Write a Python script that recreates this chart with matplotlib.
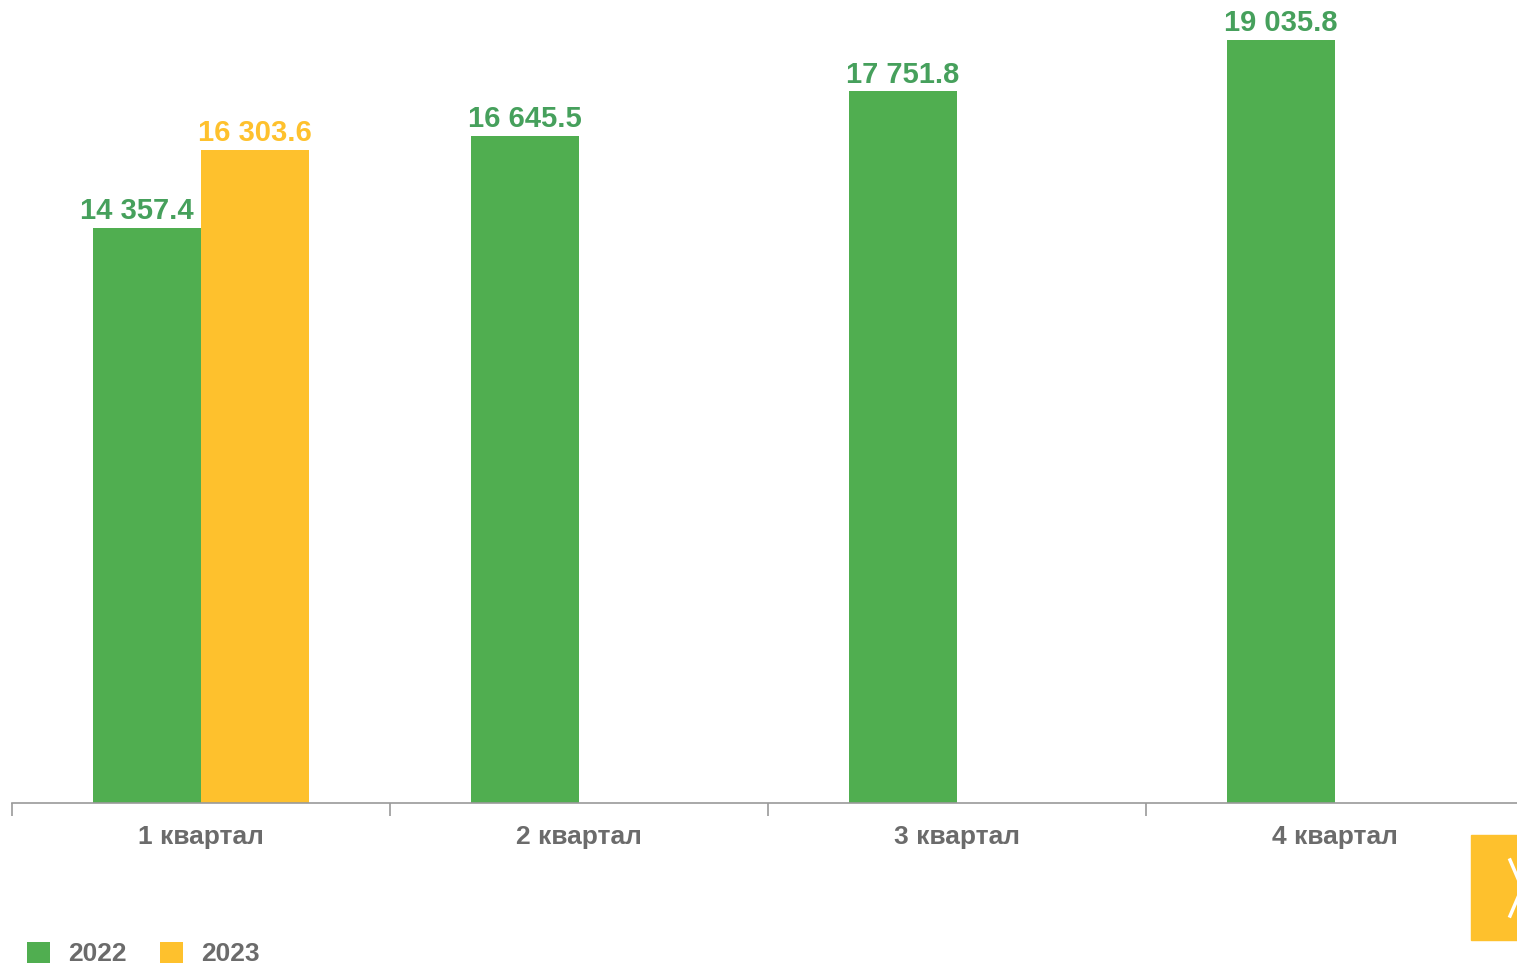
import numpy as np
import matplotlib.pyplot as plt
from matplotlib.patches import Rectangle

plt.rcParams['font.family'] = ['Liberation Sans', 'DejaVu Sans']

# Данные
quarters = ['1 квартал', '2 квартал', '3 квартал', '4 квартал']
years = ['2022', '2023']
values_2022 = [14357.4, 16645.5, 17751.8, 19035.8]
values_2023 = [16303.6, np.nan, np.nan, np.nan]

green = '#50AE50'
yellow = '#FEC12D'
green_text = '#46A05C'
gray_text = '#6B6B6B'


def fmt(v):
    return f'{v:,.1f}'.replace(',', ' ')


W, H = 1517, 966
fig = plt.figure(figsize=(W / 100, H / 100), dpi=100)
ax = fig.add_axes([12 / W, (H - 803) / H, 1512 / W, 803 / H])

x = np.arange(len(quarters))
w = 0.286
b1 = ax.bar(x - w / 2, values_2022, w, color=green, label=years[0])
b2 = ax.bar(x + w / 2, values_2023, w, color=yellow, label=years[1])

# Подписи значений
for i, bar in enumerate(b1):
    dx = -7 if i == 0 else 0
    ax.annotate(fmt(values_2022[i]), (bar.get_x() + bar.get_width() / 2, bar.get_height()),
                xytext=(dx, 2), textcoords='offset points', ha='center', va='bottom',
                fontsize=21, fontweight='bold', color=green_text)
for i, bar in enumerate(b2):
    if np.isnan(values_2023[i]):
        continue
    ax.annotate(fmt(values_2023[i]), (bar.get_x() + bar.get_width() / 2, bar.get_height()),
                xytext=(0, 2), textcoords='offset points', ha='center', va='bottom',
                fontsize=21, fontweight='bold', color=yellow)

ax.set_xlim(-0.5, len(quarters) - 0.5)
ax.set_ylim(0, 19035.8 * 803 / 763)

for s in ['top', 'right', 'left']:
    ax.spines[s].set_visible(False)
ax.spines['bottom'].set_color('#9A9A9A')
ax.spines['bottom'].set_linewidth(1.2)
ax.set_yticks([])

ax.set_xticks(x)
ax.set_xticklabels(quarters, fontsize=19, fontweight='bold', color=gray_text)
ax.tick_params(axis='x', length=0, pad=16)
ax.set_xticks(np.arange(len(quarters) + 1) - 0.5, minor=True)
ax.tick_params(axis='x', which='minor', length=9, color='#9A9A9A', width=1.2)

# Легенда
leg = fig.legend(handles=[b1, b2], labels=years, loc='center left',
                 bbox_to_anchor=(27 / W, (H - 954) / H), ncol=2, frameon=False,
                 borderpad=0, borderaxespad=0,
                 handlelength=0.87, handleheight=0.87, handletextpad=0.7,
                 columnspacing=1.25, prop={'size': 19, 'weight': 'bold'})
for t in leg.get_texts():
    t.set_color(gray_text)

# Кнопка справа внизу
fig.patches.append(Rectangle((1471 / W, (H - 940) / H), 60 / W, 105 / H,
                             transform=fig.transFigure, color=yellow, zorder=5))
fig.lines.append(plt.Line2D([1510 / W, 1522 / W, 1510 / W],
                            [(H - 860) / H, (H - 888) / H, (H - 916) / H],
                            transform=fig.transFigure, color='white', lw=2.5, zorder=6))

fig.savefig('out.png', dpi=100)
